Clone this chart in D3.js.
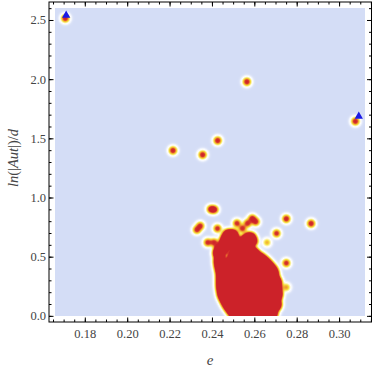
<!DOCTYPE html>
<html>
<head>
<meta charset="utf-8">
<script src="https://cdn.jsdelivr.net/npm/d3@7"></script>
<style>
  html, body { margin: 0; padding: 0; background: #ffffff; }
  svg { display: block; }
</style>
</head>
<body>
<svg id="chart" width="374" height="372"></svg>
<script>
// ---------- data ----------
// isolated sample cells (e, ln(|Aut|)/d) and their relative density
const isoE = [0.1708, 0.2565, 0.3077, 0.2427, 0.2216, 0.2356, 0.2395, 0.2412, 0.2329, 0.2345,
              0.2426, 0.2380, 0.2410, 0.2430, 0.2518, 0.2544, 0.2568, 0.2590, 0.2607, 0.2751,
              0.2868, 0.2705, 0.2660, 0.2751, 0.2751];
const isoY = [2.514, 1.978, 1.644, 1.481, 1.397, 1.361, 0.901, 0.898, 0.727, 0.760,
              0.738, 0.620, 0.620, 0.535, 0.782, 0.738, 0.782, 0.822, 0.795, 0.820,
              0.780, 0.697, 0.620, 0.446, 0.241];
const isoW = [1, 1, 1, 1, 1, 1, 1, 1, 0.9, 0.9,
              0.9, 0.9, 0.9, 0.9, 0.9, 0.9, 0.9, 1, 0.9, 1,
              1, 0.9, 0.45, 0.9, 0.5];
// dense cluster: occupied e-ranges (segments) in each band of ln(|Aut|)/d
const segY  = [0.000, 0.025, 0.050, 0.075, 0.100, 0.125, 0.150, 0.175, 0.200, 0.225,
               0.250, 0.275, 0.275, 0.300, 0.325, 0.350, 0.375,
               0.400, 0.400, 0.425, 0.425, 0.450, 0.450, 0.475, 0.475, 0.500, 0.500,
               0.525, 0.525, 0.550, 0.550, 0.575, 0.575, 0.600, 0.600, 0.625, 0.625,
               0.650, 0.650, 0.675, 0.675, 0.700];
const segLo = [0.2500, 0.2490, 0.2480, 0.2470, 0.2462, 0.2455, 0.2448, 0.2442, 0.2440, 0.2438,
               0.2436, 0.2436, 0.2690, 0.2436, 0.2436, 0.2436, 0.2434,
               0.2430, 0.2475, 0.2428, 0.2475, 0.2425, 0.2475, 0.2425, 0.2485, 0.2430, 0.2492,
               0.2420, 0.2495, 0.2425, 0.2505, 0.2428, 0.2510, 0.2445, 0.2545, 0.2452, 0.2540,
               0.2455, 0.2548, 0.2462, 0.2565, 0.2470];
const segHi = [0.2695, 0.2700, 0.2705, 0.2710, 0.2715, 0.2718, 0.2720, 0.2722, 0.2722, 0.2720,
               0.2718, 0.2660, 0.2715, 0.2712, 0.2708, 0.2705, 0.2700,
               0.2450, 0.2695, 0.2450, 0.2688, 0.2450, 0.2675, 0.2450, 0.2660, 0.2450, 0.2645,
               0.2445, 0.2620, 0.2470, 0.2605, 0.2465, 0.2590, 0.2525, 0.2590, 0.2520, 0.2600,
               0.2525, 0.2605, 0.2518, 0.2595, 0.2510];
// highlighted points (blue triangles)
const triE = [0.1712, 0.3093];
const triY = [2.540, 1.686];
// ticks
const xMajor = [0.18, 0.20, 0.22, 0.24, 0.26, 0.28, 0.30];
const yMajor = [0.0, 0.5, 1.0, 1.5, 2.0, 2.5];

// ---------- layout ----------
const svg = d3.select("#chart");
const x = d3.scaleLinear().domain([0.1631, 0.3153]).range([49, 371.5]);
const y = d3.scaleLinear().domain([-0.052, 2.652]).range([322, 2]);

// ---------- density field ----------
const hx0 = Math.round(x(0.166)), hx1 = Math.round(x(0.3124));
const hy0 = Math.round(y(2.6)),   hy1 = Math.round(y(0));
const cw = hx1 - hx0, ch = hy1 - hy0;
const field = new Float32Array(cw * ch);
const sigma = 2.5, R = 11;
function splat(e, v, w) {
  const cx = x(e) - hx0, cy = y(v) - hy0;
  for (let py = Math.floor(cy - R); py <= Math.ceil(cy + R); py++) {
    if (py < 0 || py >= ch) continue;
    for (let px = Math.floor(cx - R); px <= Math.ceil(cx + R); px++) {
      if (px < 0 || px >= cw) continue;
      const dx = px + 0.5 - cx, dy = py + 0.5 - cy;
      field[py * cw + px] += w * Math.exp(-(dx * dx + dy * dy) / (2 * sigma * sigma));
    }
  }
}
isoE.forEach((e, i) => splat(e, isoY[i], isoW[i]));
segY.forEach((v, i) => {
  for (let e = segLo[i]; e <= segHi[i] + 1e-9; e += 0.0012) splat(e, v, 0.8);
});

const color = d3.scaleLinear()
  .domain([0, 0.03, 0.09, 0.2, 0.32, 0.5, 0.75, 1])
  .range(["#d4ddf6", "#eef2fc", "#ffffff", "#fbf2a2", "#f6df3e", "#efa032", "#d83a2b", "#cc2229"])
  .clamp(true);

const canvas = document.createElement("canvas");
canvas.width = cw; canvas.height = ch;
const ctx = canvas.getContext("2d");
const img = ctx.createImageData(cw, ch);
for (let i = 0; i < cw * ch; i++) {
  const c = d3.rgb(color(field[i]));
  img.data[4 * i] = c.r; img.data[4 * i + 1] = c.g; img.data[4 * i + 2] = c.b; img.data[4 * i + 3] = 255;
}
ctx.putImageData(img, 0, 0);
svg.append("image")
  .attr("x", hx0).attr("y", hy0).attr("width", cw).attr("height", ch)
  .attr("preserveAspectRatio", "none")
  .attr("href", canvas.toDataURL());

// ---------- triangles ----------
svg.append("g").selectAll("path").data(triE).join("path")
  .attr("transform", (d, i) => `translate(${x(d)},${y(triY[i])})`)
  .attr("d", d3.symbol(d3.symbolTriangle, 30)())
  .attr("fill", "#1a1ae6");

// ---------- frame & axes ----------
const font = "'Liberation Serif', 'DejaVu Serif', serif";
function styleAxis(g) {
  g.select(".domain").remove();
  g.selectAll("line").attr("stroke", "#000").attr("stroke-width", 1);
  g.selectAll("text").attr("font-family", font).attr("font-size", 12.5).attr("fill", "#444");
}
const xMinor = d3.range(0.165, 0.3151, 0.005);
const yMinor = d3.range(0, 2.61, 0.1);

svg.append("g").attr("transform", "translate(0,322)")
  .call(d3.axisBottom(x).tickValues(xMinor).tickFormat("").tickSizeInner(-2.5).tickSizeOuter(0)).call(styleAxis);
svg.append("g").attr("transform", "translate(0,322)")
  .call(d3.axisBottom(x).tickValues(xMajor).tickFormat(d3.format(".2f")).tickSizeInner(-4.5).tickSizeOuter(0).tickPadding(7)).call(styleAxis);
svg.append("g").attr("transform", "translate(0,2)")
  .call(d3.axisTop(x).tickValues(xMinor).tickFormat("").tickSizeInner(-2.5).tickSizeOuter(0)).call(styleAxis);
svg.append("g").attr("transform", "translate(0,2)")
  .call(d3.axisTop(x).tickValues(xMajor).tickFormat("").tickSizeInner(-4.5).tickSizeOuter(0)).call(styleAxis);

svg.append("g").attr("transform", "translate(49,0)")
  .call(d3.axisLeft(y).tickValues(yMinor).tickFormat("").tickSizeInner(-2.5).tickSizeOuter(0)).call(styleAxis);
svg.append("g").attr("transform", "translate(49,0)")
  .call(d3.axisLeft(y).tickValues(yMajor).tickFormat(d3.format(".1f")).tickSizeInner(-4.5).tickSizeOuter(0).tickPadding(3)).call(styleAxis);
svg.append("g").attr("transform", "translate(371.5,0)")
  .call(d3.axisRight(y).tickValues(yMinor).tickFormat("").tickSizeInner(-2.5).tickSizeOuter(0)).call(styleAxis);
svg.append("g").attr("transform", "translate(371.5,0)")
  .call(d3.axisRight(y).tickValues(yMajor).tickFormat("").tickSizeInner(-4.5).tickSizeOuter(0)).call(styleAxis);

svg.append("rect")
  .attr("x", 49).attr("y", 2).attr("width", 322.5).attr("height", 320)
  .attr("fill", "none").attr("stroke", "#000").attr("stroke-width", 1);

// ---------- axis titles ----------
svg.append("text")
  .attr("x", 210).attr("y", 365).attr("text-anchor", "middle")
  .attr("font-family", font).attr("font-size", 15).attr("font-style", "italic").attr("fill", "#444")
  .text("e");

const yt = svg.append("text")
  .attr("transform", "translate(18,158) rotate(-90)").attr("text-anchor", "middle")
  .attr("font-family", font).attr("font-size", 14.5).attr("fill", "#444");
yt.append("tspan").attr("font-style", "italic").text("ln");
yt.append("tspan").text("(|");
yt.append("tspan").attr("font-style", "italic").text("Aut");
yt.append("tspan").text("|)/");
yt.append("tspan").attr("font-style", "italic").text("d");
</script>
</body>
</html>
